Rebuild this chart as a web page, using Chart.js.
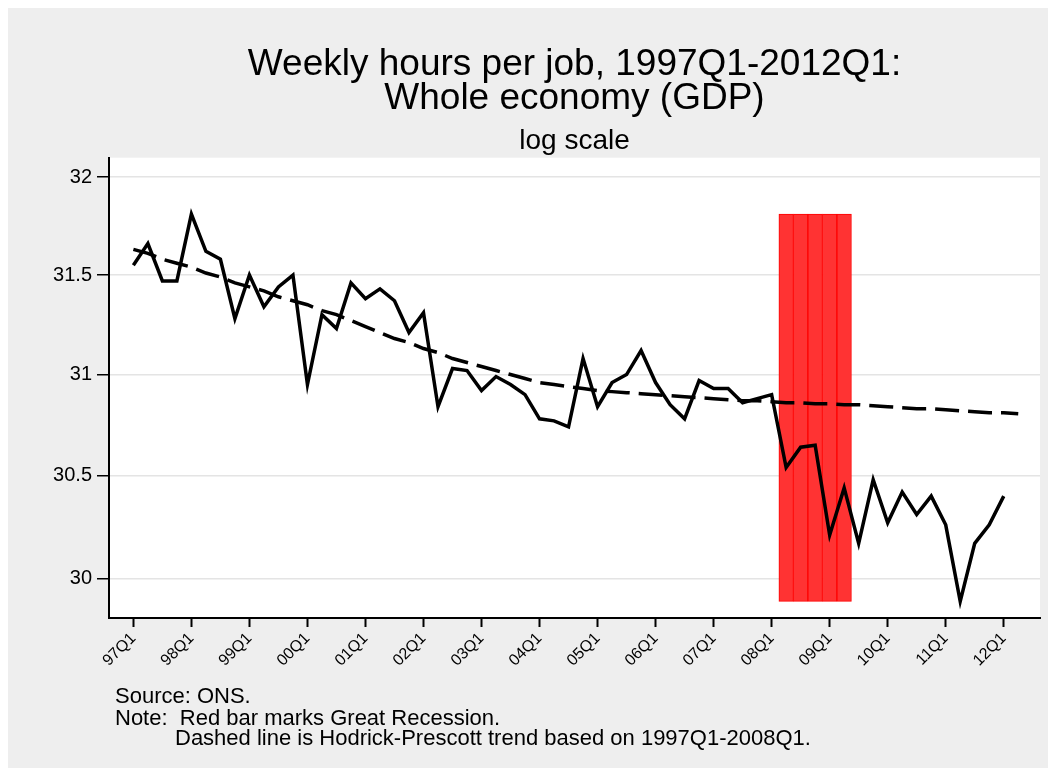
<!DOCTYPE html>
<html>
<head>
<meta charset="utf-8">
<script src="https://cdn.jsdelivr.net/npm/chart.js@4.4.1/dist/chart.umd.min.js"></script>
<style>
  body { margin: 0; background: #fff; }
  #frame { position: absolute; left: 8px; top: 8px; width: 1040px; height: 760px; background: #eeeeee; }
  #frame canvas { position: absolute; left: 0; top: 0; }
  .note { position: absolute; font-family: 'Liberation Sans', Arial, sans-serif; font-size: 22px; color: #000; white-space: pre; line-height: 22px; }
</style>
</head>
<body>
<div id="frame">
  <canvas id="grafica" width="1040" height="760"></canvas>
  <div class="note" style="left:107px; top:677px">Source: ONS.</div>
  <div class="note" style="left:107px; top:699px">Note:  Red bar marks Great Recession.</div>
  <div class="note" style="left:167px; top:719px">Dashed line is Hodrick-Prescott trend based on 1997Q1-2008Q1.</div>
</div>
<script>
// Datos: horas semanales por empleo (escala log)
const quarters = [
  '97Q1','97Q2','97Q3','97Q4','98Q1','98Q2','98Q3','98Q4','99Q1','99Q2','99Q3','99Q4',
  '00Q1','00Q2','00Q3','00Q4','01Q1','01Q2','01Q3','01Q4','02Q1','02Q2','02Q3','02Q4',
  '03Q1','03Q2','03Q3','03Q4','04Q1','04Q2','04Q3','04Q4','05Q1','05Q2','05Q3','05Q4',
  '06Q1','06Q2','06Q3','06Q4','07Q1','07Q2','07Q3','07Q4','08Q1','08Q2','08Q3','08Q4',
  '09Q1','09Q2','09Q3','09Q4','10Q1','10Q2','10Q3','10Q4','11Q1','11Q2','11Q3','11Q4',
  '12Q1','12Q2'
];

const hours = [
  31.55, 31.66, 31.47, 31.47, 31.81, 31.62, 31.58, 31.28, 31.50, 31.34, 31.44, 31.50,
  30.95, 31.30, 31.23, 31.46, 31.38, 31.43, 31.37, 31.21, 31.31, 30.84, 31.03, 31.02,
  30.92, 30.99, 30.95, 30.90, 30.78, 30.77, 30.74, 31.08, 30.84, 30.96, 31.00, 31.12,
  30.96, 30.85, 30.78, 30.97, 30.93, 30.93, 30.86, 30.88, 30.90, 30.54, 30.64, 30.65,
  30.21, 30.44, 30.17, 30.48, 30.27, 30.42, 30.31, 30.40, 30.26, 29.89, 30.17, 30.26,
  30.40
];

const trend = [
  31.63, 31.61, 31.58, 31.56, 31.54, 31.51, 31.49, 31.46, 31.44, 31.42, 31.39, 31.37,
  31.35, 31.32, 31.30, 31.27, 31.24, 31.21, 31.18, 31.16, 31.13, 31.11, 31.08, 31.06,
  31.04, 31.02, 31.00, 30.98, 30.96, 30.95, 30.94, 30.93, 30.92, 30.915, 30.91, 30.905,
  30.90, 30.895, 30.89, 30.885, 30.88, 30.875, 30.87, 30.87, 30.865, 30.86, 30.86, 30.855,
  30.855, 30.85, 30.85, 30.845, 30.84, 30.835, 30.83, 30.83, 30.825, 30.82, 30.815, 30.81,
  30.81, 30.805
];

const recession = ['08Q2', '08Q3', '08Q4', '09Q1', '09Q2'];
const recessionRange = [29.89, 31.81];

const yTicks = [30, 30.5, 31, 31.5, 32];
const xTickLabels = ['97Q1','98Q1','99Q1','00Q1','01Q1','02Q1','03Q1','04Q1',
  '05Q1','06Q1','07Q1','08Q1','09Q1','10Q1','11Q1','12Q1'];

Chart.defaults.font.family = "'Liberation Sans', Arial, sans-serif";
Chart.defaults.color = '#000';

// fondo blanco del area de trazado
const plotBackground = {
  id: 'plotBackground',
  beforeDraw(chart) {
    const { ctx, chartArea: a } = chart;
    ctx.save();
    ctx.fillStyle = '#fff';
    ctx.fillRect(a.left, a.top, a.right - a.left, a.bottom - a.top);
    ctx.restore();
  }
};

const graph = document.querySelector('#grafica');

const data = {
  datasets: [
    {
      type: 'line',
      label: 'Hours',
      data: hours.map((v, i) => ({ x: i, y: v })),
      borderColor: '#000',
      borderWidth: 3.5,
      pointRadius: 0,
      tension: 0
    },
    {
      type: 'line',
      label: 'HP trend',
      data: trend.map((v, i) => ({ x: i, y: v })),
      borderColor: '#000',
      borderWidth: 3.5,
      borderDash: [24, 9],
      pointRadius: 0,
      tension: 0
    },
    {
      type: 'bar',
      label: 'Great Recession',
      data: recession.map(q => ({ x: quarters.indexOf(q), y: recessionRange })),
      backgroundColor: 'rgb(255,51,51)',
      borderColor: 'rgb(255,0,0)',
      borderWidth: 1,
      borderSkipped: false,
      barPercentage: 1,
      categoryPercentage: 1
    }
  ]
};

const config = {
  type: 'bar',
  data: data,
  plugins: [plotBackground],
  options: {
    responsive: false,
    animation: false,
    devicePixelRatio: 1,
    layout: { padding: { top: 0, right: 8, bottom: 90, left: 0 } },
    plugins: {
      legend: { display: false },
      tooltip: { enabled: false },
      title: {
        display: true,
        fullSize: false,
        text: ['Weekly hours per job, 1997Q1-2012Q1:', 'Whole economy (GDP)'],
        font: { size: 37, weight: 'normal', lineHeight: 0.92 },
        color: '#000',
        padding: { top: 40, bottom: 0 }
      },
      subtitle: {
        display: true,
        fullSize: false,
        text: 'log scale',
        font: { size: 28, weight: 'normal', lineHeight: 1.2 },
        color: '#000',
        padding: { top: 8, bottom: 0 }
      }
    },
    scales: {
      x: {
        type: 'linear',
        min: -1.68,
        max: 62.5,
        offset: false,
        afterFit(s) { s.height = 60; },
        afterBuildTicks(s) { s.ticks = xTickLabels.map(l => ({ value: quarters.indexOf(l) })); },
        ticks: {
          callback: v => quarters[v],
          minRotation: 45,
          maxRotation: 45,
          autoSkip: false,
          padding: 2,
          font: { size: 16 }
        },
        grid: { drawOnChartArea: false, offset: false, tickLength: 9, tickColor: '#000', tickWidth: 2 },
        border: { color: '#000', width: 2 }
      },
      y: {
        type: 'logarithmic',
        min: 29.81,
        max: 32.1,
        afterFit(s) { s.width = 101; },
        afterBuildTicks(s) { s.ticks = yTicks.map(v => ({ value: v })); },
        ticks: {
          callback: v => String(v),
          padding: 5,
          font: { size: 20 }
        },
        grid: { color: '#e4e4e4', lineWidth: 1.5, tickLength: 12, tickColor: '#000', tickWidth: 1.5 },
        border: { color: '#000', width: 2 }
      }
    }
  }
};

new Chart(graph, config);
</script>
</body>
</html>
